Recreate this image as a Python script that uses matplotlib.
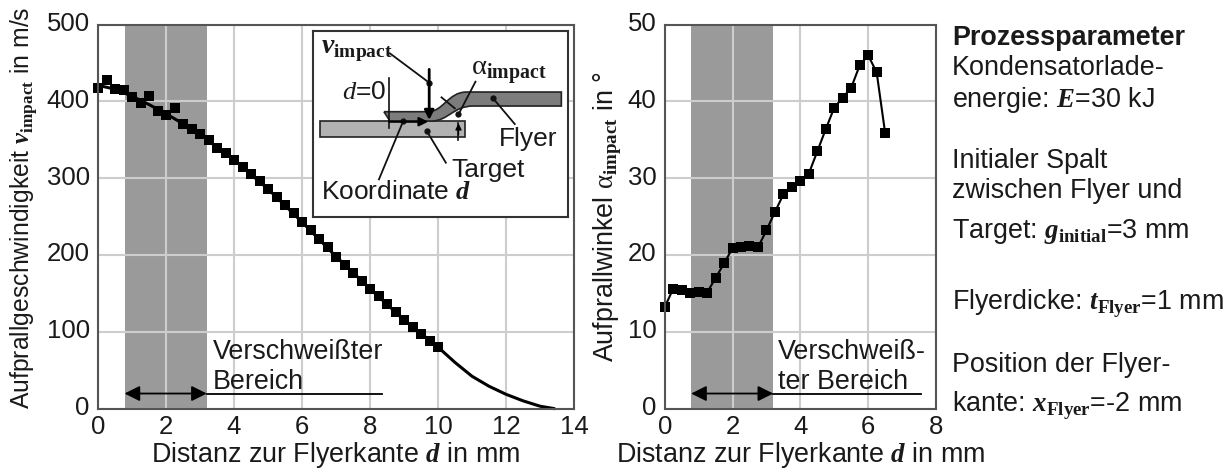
#!/usr/bin/env python3
"""Impact velocity and impact angle over the distance to the flyer edge."""
import matplotlib
matplotlib.use("Agg")
import matplotlib.pyplot as plt
from matplotlib.patches import FancyArrowPatch, PathPatch, Rectangle
from matplotlib.path import Path
from matplotlib.transforms import ScaledTranslation

W, H = 1232, 470
INK = "#1A1A1A"
SPINE = "#555555"
GRID = "#CDCDCD"
SHADE = "#9A9A9A"
FS = 19.4

plt.rcParams.update({
    "font.family": "Liberation Sans", "font.size": 18.5,
    "mathtext.fontset": "custom", "mathtext.rm": "Liberation Serif",
    "mathtext.it": "Liberation Serif:italic", "mathtext.bf": "Liberation Serif:bold",
    "mathtext.bfit": "Liberation Serif:italic:bold", "mathtext.default": "regular",
    "text.color": INK, "xtick.color": INK, "ytick.color": INK,
})

# ---- data ----
v_d = [0, 0.25, 0.5, 0.75, 1, 1.25, 1.5, 1.75, 2, 2.25, 2.5, 2.75, 3, 3.25, 3.5, 3.75,
       4, 4.25, 4.5, 4.75, 5, 5.25, 5.5, 5.75, 6, 6.25, 6.5, 6.75, 7, 7.25, 7.5, 7.75,
       8, 8.25, 8.5, 8.75, 9, 9.25, 9.5, 9.75, 10]
v_points = [418, 428, 416, 415, 406, 398, 407, 388, 382, 392, 371, 364, 358, 350, 340, 333,
            324, 315, 306, 296, 286, 276, 265, 255, 243, 233, 220.5, 210, 198, 187.5, 176.5, 166,
            156, 146, 136, 125.5, 115.5, 106, 97, 88, 80]
fit_d = [0, 0.5, 1, 1.5, 2, 2.5, 3, 3.5, 4, 5, 6, 7, 8, 9, 10,
         10.5, 11, 11.5, 12, 12.5, 13, 13.4]
fit_v = [421, 416, 407, 396, 384, 371, 358, 340, 324, 286, 243, 198, 156, 115.5, 80,
         60, 42, 29, 18.5, 10, 3, 0]
a_d = [0, 0.25, 0.5, 0.75, 1, 1.25, 1.5, 1.75, 2, 2.25, 2.5, 2.75, 3, 3.25,
       3.5, 3.75, 4, 4.25, 4.5, 4.75, 5, 5.25, 5.5, 5.75, 6, 6.25, 6.5]
a_points = [13.2, 15.6, 15.4, 15.1, 15.2, 15.1, 17, 18.9, 20.9, 21.1, 21.2, 21, 23.2, 25.6,
            27.9, 28.8, 29.7, 30.6, 33.5, 36.4, 39.2, 40.5, 41.8, 44.7, 46, 43.8, 35.9]
welded = (0.78, 3.2)


def px_axes(fig, x0, y0, x1, y1, **kw):
    # pixel box (top-left origin) -> figure axes
    return fig.add_axes([x0 / W, 1 - y1 / H, (x1 - x0) / W, (y1 - y0) / H], **kw)


def px_text(fig, x, y, s, **kw):
    fig.text(x / W, 1 - y / H, s, **kw)


def style(ax, xlim, ylim, xticks, yticks):
    ax.set_xlim(*xlim); ax.set_ylim(*ylim)
    ax.set_xticks(xticks); ax.set_yticks(yticks)
    ax.grid(True, color=GRID, lw=1.5, zorder=1)
    ax.set_axisbelow(False)
    ax.tick_params(length=0, labelsize=18.5)
    ax.tick_params(axis="x", pad=5)
    ax.tick_params(axis="y", pad=6)
    up = ScaledTranslation(0, 3 / 100, ax.figure.dpi_scale_trans)
    for lab in ax.get_yticklabels():
        lab.set_transform(lab.get_transform() + up)
    for sp in ax.spines.values():
        sp.set_color(SPINE); sp.set_linewidth(1.5); sp.set_zorder(4)
    ax.axvspan(*welded, color=SHADE, lw=0, zorder=0.5)


def weld_arrow(ax, y, x_end):
    ax.plot([welded[1], x_end], [y, y], color="black", lw=1.3, zorder=3, clip_on=False)
    ax.add_patch(FancyArrowPatch((welded[0], y), (welded[1], y), arrowstyle="<|-|>",
                                 mutation_scale=23, color="black", lw=1.3, shrinkA=0, shrinkB=0, zorder=3))


def inset(fig):
    # schematic, drawn in zoomed-crop coordinates
    ax = px_axes(fig, 312.7, 30.7, 568, 216.7, zorder=5)
    ax.set_xlim(38, 805); ax.set_ylim(590, 32)
    ax.set_xticks([]); ax.set_yticks([])
    for sp in ax.spines.values():
        sp.set_color("#333333"); sp.set_linewidth(1.5)
    ax.add_patch(Rectangle((60, 303), 437, 47, fc="#B2B2B2", ec="#222222", lw=1.2))
    verts = [(252, 275), (385, 275), (430, 275), (445, 216), (500, 216), (785, 216), (785, 258), (520, 258),
             (460, 258), (445, 303), (395, 303), (270, 303), (252, 275)]
    codes = [Path.MOVETO, Path.LINETO, Path.CURVE4, Path.CURVE4, Path.CURVE4, Path.LINETO, Path.LINETO, Path.LINETO,
             Path.CURVE4, Path.CURVE4, Path.CURVE4, Path.LINETO, Path.LINETO]
    ax.add_patch(PathPatch(Path(verts, codes), fc="#7C7C7C", ec="#222222", lw=1.2))
    for (x0, y0), (x1, y1), dot in [((270, 100), (388, 188), True), ((527, 185), (476, 283), True),
                                    ((645, 312), (580, 235), True), ((438, 428), (380, 332), True),
                                    ((237, 478), (310, 303), True), ((425, 232), (465, 265), False)]:
        ax.plot([x0, x1], [y0, y1], color="#111111", lw=1.3)
        if dot:
            ax.plot([x1], [y1], "o", color="#111111", ms=3.5)
    ax.plot([268, 268], [175, 325], color="#111111", lw=1.2)
    ax.plot([476, 476], [310, 360], color="#111111", lw=1.2)
    ax.annotate("", xy=(388, 300), xytext=(388, 148),
                arrowprops=dict(arrowstyle="-|>", color="black", lw=2, mutation_scale=14, shrinkA=0, shrinkB=0))
    ax.annotate("", xy=(385, 305), xytext=(268, 305),
                arrowprops=dict(arrowstyle="-|>", color="black", lw=1.6, mutation_scale=13, shrinkA=0, shrinkB=0))
    ax.annotate("", xy=(476, 310), xytext=(476, 345),
                arrowprops=dict(arrowstyle="-|>", color="black", lw=1, mutation_scale=9, shrinkA=0, shrinkB=0))
    ax.text(62, 100, r"$\mathbfit{v}_{\mathbf{impact}}$", fontsize=20)
    ax.text(515, 165, r"$\mathrm{\alpha}_{\mathbf{impact}}$", fontsize=20.5)
    ax.text(125, 236, r"$\mathit{d}$=0", fontsize=19)
    ax.text(598, 378, "Flyer", fontsize=19)
    ax.text(455, 470, "Target", fontsize=19)
    ax.text(62, 538, r"Koordinate $\mathbfit{d}$", fontsize=19)


def main():
    fig = plt.figure(figsize=(W / 100, H / 100), dpi=100, facecolor="white")

    # ---- left panel: velocity ----
    ax1 = px_axes(fig, 98, 24.7, 574, 408.5)
    style(ax1, (0, 14), (0, 500), range(0, 15, 2), range(0, 501, 100))
    ax1.plot(fit_d, fit_v, "-", color="black", lw=2.2, zorder=3, clip_on=False)
    ax1.plot(v_d, v_points, "s", color="black", ms=7, mew=0, zorder=3, clip_on=False)
    weld_arrow(ax1, 19.5, 8.35)
    px_text(fig, 213, 359, "Verschweißter", fontsize=FS)
    px_text(fig, 213, 389, "Bereich", fontsize=FS)
    inset(fig)

    # ---- right panel: angle ----
    ax2 = px_axes(fig, 664.7, 24.7, 936, 408.5)
    style(ax2, (0, 8), (0, 50), range(0, 9, 2), range(0, 51, 10))
    ax2.plot(a_d, a_points, "-s", color="black", lw=1.5, ms=7.4, mew=0, zorder=3, clip_on=False)
    weld_arrow(ax2, 1.95, 7.56)
    px_text(fig, 778, 359, "Verschweiß-", fontsize=FS)
    px_text(fig, 778, 389, "ter Bereich", fontsize=FS)

    # ---- axis titles ----
    px_text(fig, 336, 462, r"Distanz zur Flyerkante $\mathbfit{d}$ in mm", fontsize=FS, ha="center")
    px_text(fig, 801, 462, r"Distanz zur Flyerkante $\mathbfit{d}$ in mm", fontsize=FS, ha="center")
    px_text(fig, 24, 208, r"Aufprallgeschwindigkeit $\mathbfit{v}_{\mathbf{impact}}$ in m/s", fontsize=17.8,
            rotation=90, ha="center", va="center")
    px_text(fig, 608, 217, r"Aufprallwinkel $\mathrm{\alpha}_{\mathbf{impact}}$ in °", fontsize=FS,
            rotation=90, ha="center", va="center")

    # ---- process parameters ----
    px_text(fig, 952, 45, "Prozessparameter", fontsize=FS, fontweight="bold")
    for y, s in [(75, "Kondensatorlade-"),
                 (107, r"energie: $\mathbfit{E}$=30 kJ"),
                 (168, "Initialer Spalt"),
                 (198, "zwischen Flyer und"),
                 (238, r"Target: $\mathbfit{g}_{\mathbf{initial}}$=3 mm"),
                 (309, r"Flyerdicke: $\mathbfit{t}_{\mathbf{Flyer}}$=1 mm"),
                 (372, "Position der Flyer-"),
                 (412, r"kante: $\mathbfit{x}_{\mathbf{Flyer}}$=-2 mm")]:
        px_text(fig, 952, y, s, fontsize=FS)

    fig.savefig("out.png", dpi=100, facecolor="white")


main()
